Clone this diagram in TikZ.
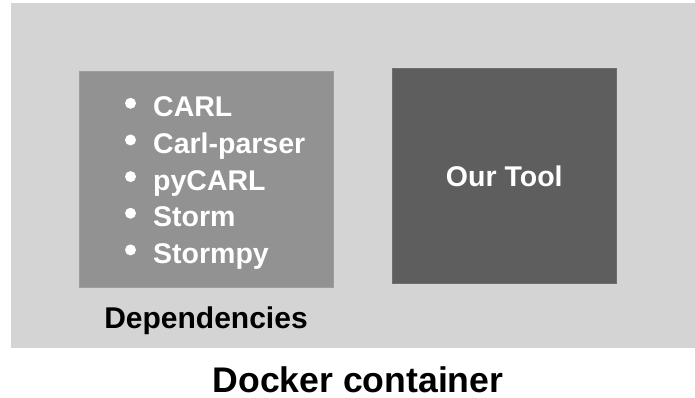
\documentclass[tikz,border=0pt]{standalone}
\usepackage{fontspec}
\setmainfont{Liberation Sans}
\definecolor{outerc}{HTML}{D4D4D4}
\definecolor{depc}{HTML}{929292}
\definecolor{toolc}{HTML}{5E5E5E}
\tikzset{
  panel/.style={draw=#1!90!white, line width=0.6pt, fill=#1, inner sep=0pt},
  item/.style={anchor=base west, text=white, font=\fontsize{28.5}{28.5}\selectfont\bfseries, inner sep=0pt},
  dot/.style={circle, fill=white, inner sep=0pt, minimum size=11pt},
}
\begin{document}
\begin{tikzpicture}[x=1pt,y=-1pt]
\useasboundingbox (0,0) rectangle (695,398);
\fill[outerc] (10.5,3) rectangle (695,348);
\node[panel=depc, minimum width=254pt, minimum height=216pt, anchor=north west] (dep) at (79,71) {};
\node[panel=toolc, minimum width=224pt, minimum height=215pt, anchor=north west] (tool) at (392,68) {};
\node[text=white, font=\fontsize{28.5}{28.5}\selectfont\bfseries] (tooltext) at ([yshift=-1pt]tool.center) {Our Tool};
\foreach \t [count=\i] in {CARL,Carl-parser,pyCARL,Storm,Stormpy}{
  \node[item] (it\i) at (153,{116.7+36.65*(\i-1)}) {\t};
  \node[dot] (b\i) at (130.5,{103.3+36.65*(\i-1)}) {};
}
\node[font=\fontsize{30}{30}\selectfont\bfseries, anchor=base] (deplabel) at (206,328) {Dependencies};
\node[font=\fontsize{35.6}{35.6}\selectfont\bfseries, anchor=base] (docker) at (358,392) {Docker container};
\end{tikzpicture}
\end{document}
